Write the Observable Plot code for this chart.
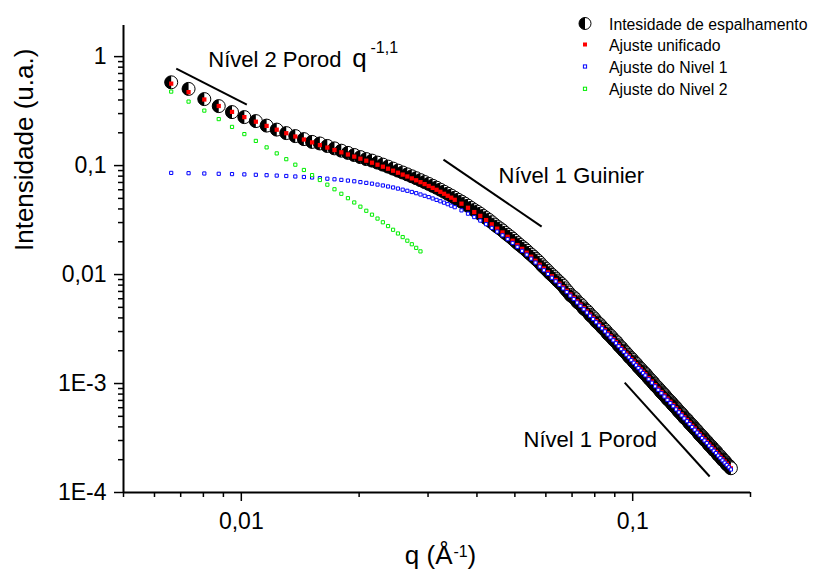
<!DOCTYPE html>
<html>
<head>
<meta charset="utf-8">
<script src="https://cdn.jsdelivr.net/npm/d3@7"></script>
<script src="https://cdn.jsdelivr.net/npm/@observablehq/plot@0.6"></script>
<style>
  html, body { margin: 0; padding: 0; background: #fff; }
  #chart { width: 813px; height: 570px; position: relative; }
</style>
</head>
<body>
<div id="chart"></div>
<script>
// ---------------- data ----------------
// q grid of the measured curve (every point)
const qDados = [0.00662, 0.007332, 0.008044, 0.008756, 0.009468, 0.01018, 0.010892, 0.011604, 0.012316, 0.013028, 0.01374, 0.014452, 0.015164, 0.015876, 0.016588, 0.0173, 0.018012, 0.018724, 0.019436, 0.020148, 0.02086, 0.021572, 0.022284, 0.022996, 0.023708, 0.02442, 0.025132, 0.025844, 0.026556, 0.027268, 0.02798, 0.028692, 0.029404, 0.030116, 0.030828, 0.03154, 0.032252, 0.032964, 0.033676, 0.034388, 0.0351,
  0.035812, 0.036524, 0.037236, 0.037948, 0.03866, 0.039372, 0.040084, 0.040796, 0.041508, 0.04222, 0.042932, 0.043644, 0.044356, 0.045068, 0.04578, 0.046492, 0.047204, 0.047916, 0.048628, 0.04934,
  0.050052, 0.050764, 0.051476, 0.052188, 0.0529, 0.053612, 0.054324, 0.055036, 0.055748, 0.05646, 0.057172, 0.057884, 0.058596, 0.059308, 0.06002, 0.060732, 0.061444, 0.062156, 0.062868, 0.06358,
  0.064292, 0.065004, 0.065716, 0.066428, 0.06714, 0.067852, 0.068564, 0.069276, 0.069988, 0.0707, 0.071412, 0.072124, 0.072836, 0.073548, 0.07426, 0.074972, 0.075684, 0.076396, 0.077108, 0.07782,
  0.078532, 0.079244, 0.079956, 0.080668, 0.08138, 0.082092, 0.082804, 0.083516, 0.084228, 0.08494, 0.085652, 0.086364, 0.087076, 0.087788, 0.0885, 0.089212, 0.089924, 0.090636, 0.091348, 0.09206,
  0.092772, 0.093484, 0.094196, 0.094908, 0.09562, 0.096332, 0.097044, 0.097756, 0.098468, 0.09918, 0.099892, 0.100604, 0.101316, 0.102028, 0.10274, 0.103452, 0.104164, 0.104876, 0.105588, 0.1063,
  0.107012, 0.107724, 0.108436, 0.109148, 0.10986, 0.110572, 0.111284, 0.111996, 0.112708, 0.11342, 0.114132, 0.114844, 0.115556, 0.116268, 0.11698, 0.117692, 0.118404, 0.119116, 0.119828, 0.12054,
  0.121252, 0.121964, 0.122676, 0.123388, 0.1241, 0.124812, 0.125524, 0.126236, 0.126948, 0.12766, 0.128372, 0.129084, 0.129796, 0.130508, 0.13122, 0.131932, 0.132644, 0.133356, 0.134068, 0.13478,
  0.135492, 0.136204, 0.136916, 0.137628, 0.13834, 0.139052, 0.139764, 0.140476, 0.141188, 0.1419, 0.142612, 0.143324, 0.144036, 0.144748, 0.14546, 0.146172, 0.146884, 0.147596, 0.148308, 0.14902,
  0.149732, 0.150444, 0.151156, 0.151868, 0.15258, 0.153292, 0.154004, 0.154716, 0.155428, 0.15614, 0.156852, 0.157564, 0.158276, 0.158988, 0.1597, 0.160412, 0.161124, 0.161836, 0.162548, 0.16326,
  0.163972, 0.164684, 0.165396, 0.166108, 0.16682, 0.167532, 0.168244, 0.168956, 0.169668, 0.17038, 0.171092, 0.171804, 0.172516, 0.173228, 0.17394, 0.174652, 0.175364, 0.176076, 0.176788, 0.1775, 0.178212];

const intensidade = [0.581, 0.5053, 0.4076, 0.3514, 0.3096, 0.2786, 0.2561, 0.2328, 0.2139, 0.1987, 0.1865, 0.175, 0.165, 0.1596, 0.1514, 0.1439, 0.137, 0.1308, 0.1251, 0.1197, 0.1148, 0.1111, 0.1065, 0.1021, 0.09789, 0.09382, 0.08994, 0.08639, 0.083, 0.07974, 0.07661, 0.0736, 0.0707, 0.06791, 0.06524, 0.06268, 0.06008, 0.05759, 0.05521, 0.05303, 0.05072,
  0.0486, 0.04672, 0.0448, 0.04285, 0.0409, 0.03914, 0.0377, 0.03612, 0.0345, 0.03304, 0.0317, 0.03023, 0.0288, 0.02756, 0.0265, 0.02542, 0.0242, 0.02322, 0.0223, 0.02134,
  0.0204, 0.01949, 0.0187, 0.01797, 0.0173, 0.01656, 0.0158, 0.01523, 0.0146, 0.01398, 0.01345, 0.01285, 0.0122, 0.01169, 0.01125, 0.01078, 0.0103, 0.009936, 0.00958, 0.009191,
  0.00882, 0.008501, 0.0082, 0.007877, 0.00748, 0.00715, 0.00686, 0.00652, 0.00632, 0.00618, 0.00595, 0.00566, 0.00548, 0.00535, 0.00514, 0.0049, 0.00476, 0.00465, 0.00448, 0.00428,
  0.00415, 0.00405, 0.0039, 0.00373, 0.00362, 0.00353, 0.00342, 0.00329, 0.00319, 0.00311, 0.003, 0.00288, 0.0028, 0.00274, 0.00265, 0.00255, 0.00248, 0.00243, 0.00235, 0.00225,
  0.00219, 0.00214, 0.00207, 0.002, 0.00195, 0.0019, 0.00184, 0.00178, 0.00173, 0.0017, 0.00165, 0.00159, 0.00155, 0.00152, 0.00147, 0.00142, 0.00139, 0.00136, 0.00132, 0.00128,
  0.00125, 0.00123, 0.001194, 0.001159, 0.001125, 0.0011, 0.001074, 0.00105, 0.001021, 0.000992, 0.000965, 0.000945, 0.000925, 0.000905, 0.000881, 0.000858, 0.000835, 0.000818, 0.000801, 0.000785,
  0.000764, 0.000744, 0.000725, 0.000711, 0.000698, 0.000685, 0.000668, 0.000651, 0.000635, 0.000622, 0.00061, 0.000598, 0.000584, 0.00057, 0.000556, 0.000546, 0.000536, 0.000527, 0.000514, 0.000501,
  0.000488, 0.000481, 0.000473, 0.000466, 0.000455, 0.000444, 0.000433, 0.000426, 0.000419, 0.000412, 0.000403, 0.000394, 0.000385, 0.000379, 0.000373, 0.000367, 0.000358, 0.00035, 0.000342, 0.000337,
  0.000332, 0.000327, 0.00032, 0.000313, 0.000306, 0.000302, 0.000297, 0.000293, 0.000287, 0.00028, 0.000274, 0.000271, 0.000267, 0.000264, 0.000258, 0.000252, 0.000246, 0.000243, 0.000241, 0.000238,
  0.000233, 0.000227, 0.000222, 0.00022, 0.000217, 0.000215, 0.00021, 0.000205, 0.0002, 0.000198, 0.000196, 0.000194, 0.00019, 0.000186, 0.000182, 0.00018, 0.000178, 0.000176, 0.000173, 0.00017, 0.000167];

// q grid of the fitted curves
const q = [0.00662, 0.007332, 0.008044, 0.008756, 0.009468, 0.01018, 0.010892, 0.011604, 0.012316, 0.013028, 0.01374, 0.014452, 0.015164, 0.015876, 0.016588, 0.0173, 0.018012, 0.018724, 0.019436, 0.020148, 0.02086, 0.021572, 0.022284, 0.022996, 0.023708, 0.02442, 0.025132, 0.025844, 0.026556, 0.027268, 0.02798, 0.028692, 0.029404, 0.030116, 0.030828, 0.03154, 0.032252, 0.032964, 0.033676, 0.034388, 0.0351,
  0.036524, 0.037948, 0.039372, 0.040796, 0.04222, 0.043644, 0.045068, 0.046492, 0.047916, 0.04934, 0.050764, 0.052188, 0.053612, 0.055036, 0.05646, 0.057884, 0.059308, 0.060732, 0.062156, 0.06358, 0.065004, 0.066428, 0.067852, 0.069276, 0.0707, 0.072124, 0.073548, 0.074972, 0.076396, 0.07782, 0.079244, 0.080668, 0.082092, 0.083516, 0.08494, 0.086364, 0.087788, 0.089212, 0.090636, 0.09206, 0.093484, 0.094908, 0.096332, 0.097756, 0.09918, 0.100604, 0.102028, 0.103452, 0.104876, 0.1063, 0.107724,
  0.10986, 0.111996, 0.114132, 0.116268, 0.118404, 0.12054, 0.122676, 0.124812, 0.126948, 0.129084, 0.13122, 0.133356, 0.135492, 0.137628, 0.139764, 0.1419, 0.144036, 0.146172, 0.148308, 0.150444, 0.15258, 0.154716, 0.156852, 0.158988, 0.161124, 0.16326, 0.165396, 0.167532, 0.169668, 0.171804, 0.17394, 0.176076, 0.178212];

const ajusteUnificado = [0.565, 0.4724, 0.4041, 0.3522, 0.311, 0.2786, 0.2528, 0.2313, 0.2135, 0.1982, 0.1849, 0.1735, 0.1632, 0.1542, 0.1463, 0.139, 0.1324, 0.1264, 0.1209, 0.1157, 0.1109, 0.1063, 0.1019, 0.0977, 0.09367, 0.08978, 0.08607, 0.08267, 0.07943, 0.07631, 0.07331, 0.07043, 0.06766, 0.06499, 0.06243, 0.05998, 0.05749, 0.05511, 0.05283, 0.05075, 0.04854,
  0.04471, 0.041, 0.03745, 0.03456, 0.03162, 0.02893, 0.02637, 0.02433, 0.02222, 0.02042, 0.01865, 0.0172, 0.01585, 0.01457, 0.01338, 0.0123, 0.01135, 0.01047, 0.009647, 0.008923, 0.008253, 0.007648, 0.007087, 0.006568, 0.006112, 0.005676, 0.005294, 0.004928, 0.004596, 0.004295, 0.004006, 0.003744, 0.003499, 0.003292, 0.003083, 0.002892, 0.002716, 0.002555, 0.002403, 0.002255, 0.002121, 0.002003, 0.001884, 0.001783, 0.001681, 0.001591, 0.001507, 0.001423, 0.00135, 0.00128, 0.001217,
  0.001123, 0.001043, 0.0009667, 0.0008978, 0.0008356, 0.0007789, 0.0007266, 0.0006793, 0.0006349, 0.0005934, 0.0005581, 0.0005227, 0.0004906, 0.0004625, 0.000435, 0.0004091, 0.0003865, 0.0003635, 0.000344, 0.0003243, 0.0003076, 0.0002911, 0.0002757, 0.0002615, 0.000248, 0.0002358, 0.0002236, 0.0002126, 0.000202, 0.0001925, 0.0001834, 0.0001747, 0.0001667];

const ajusteNivel1 = [0.0857, 0.08516, 0.08462, 0.08409, 0.08356, 0.08303, 0.08233, 0.08163, 0.08095, 0.08027, 0.07943, 0.07859, 0.07776, 0.07679, 0.07582, 0.07487, 0.07393, 0.07285, 0.07178, 0.07057, 0.06939, 0.06822, 0.06694, 0.06568, 0.06431, 0.06297, 0.06152, 0.06011, 0.05872, 0.05725, 0.05582, 0.05431, 0.05283, 0.0514, 0.04991, 0.04845, 0.04704, 0.04567, 0.04424, 0.04286, 0.04152,
  0.03882, 0.0362, 0.03369, 0.03129, 0.02899, 0.02682, 0.0248, 0.02293, 0.02113, 0.0195, 0.01795, 0.0165, 0.01523, 0.01399, 0.01288, 0.01184, 0.01095, 0.01013, 0.009346, 0.008661, 0.008027, 0.007457, 0.00691, 0.006404, 0.005959, 0.005534, 0.005162, 0.004805, 0.004481, 0.004188, 0.003906, 0.00365, 0.003412, 0.00321, 0.003006, 0.00282, 0.002648, 0.002491, 0.002343, 0.002199, 0.002068, 0.001953, 0.001837, 0.001738, 0.001639, 0.001551, 0.001469, 0.001387, 0.001316, 0.001248, 0.001187,
  0.001095, 0.001017, 0.0009425, 0.0008754, 0.0008147, 0.0007594, 0.0007084, 0.0006623, 0.000619, 0.0005786, 0.0005441, 0.0005096, 0.0004783, 0.0004509, 0.0004241, 0.0003989, 0.0003768, 0.0003544, 0.0003354, 0.0003162, 0.0002999, 0.0002838, 0.0002688, 0.000255, 0.0002418, 0.0002299, 0.000218, 0.0002073, 0.000197, 0.0001877, 0.0001788, 0.0001703, 0.0001625];

const ajusteNivel2 = [0.4775, 0.3866, 0.3196, 0.2671, 0.2265, 0.1945, 0.1685, 0.1469, 0.1294, 0.1145, 0.1019, 0.09114, 0.0818, 0.07377, 0.0668, 0.06064, 0.05511, 0.05021, 0.04586, 0.04197, 0.03849, 0.03544, 0.03264, 0.03019, 0.02786, 0.02576, 0.02382, 0.02208, 0.02046, 0.01897, 0.01758, 0.01632];

// axis ticks
const xMajor = [0.01, 0.1];
const xMajorLabels = ["0,01", "0,1"];
const xMinor = [0.005, 0.006, 0.007, 0.008, 0.009, 0.02, 0.03, 0.04, 0.05, 0.06, 0.07, 0.08, 0.09, 0.2];
const yMajor = [1e-4, 1e-3, 0.01, 0.1, 1];
const yMajorLabels = ["1E-4", "1E-3", "0,01", "0,1", "1"];
const yMinor = [2e-4, 3e-4, 4e-4, 5e-4, 6e-4, 7e-4, 8e-4, 9e-4, 2e-3, 3e-3, 4e-3, 5e-3, 6e-3, 7e-3, 8e-3, 9e-3, 0.02, 0.03, 0.04, 0.05, 0.06, 0.07, 0.08, 0.09, 0.2, 0.3, 0.4, 0.5, 0.6, 0.7, 0.8, 0.9];

// annotation guide lines (q, I endpoints)
const guideQ1 = [0.00682, 0.03285, 0.0954];
const guideI1 = [0.7763, 0.1135, 0.001021];
const guideQ2 = [0.01033, 0.05853, 0.1573];
const guideI2 = [0.3628, 0.02756, 0.0001402];

// annotation labels (baseline-anchored, in data units)
const annotLabels = ["Nível 2 Porod", "Nível 1 Guinier", "Nível 1 Porod"];
const annotQ = [0.008233, 0.04544, 0.05263];
const annotI = [0.8096, 0.06982, 0.0002642];

const legendLabels = ["Intesidade de espalhamento", "Ajuste unificado", "Ajuste do Nivel 1", "Ajuste do Nivel 2"];

// ---------------- build ----------------
const dataPts = intensidade.map((v, i) => ({q: qDados[i], I: v}));
const redPts = ajusteUnificado.map((v, i) => ({q: q[i], I: v}));
const bluePts = ajusteNivel1.map((v, i) => ({q: q[i], I: v}));
const greenPts = ajusteNivel2.map((v, i) => ({q: q[i], I: v}));
const guides = guideQ1.map((d, i) => ({q1: d, I1: guideI1[i], q2: guideQ2[i], I2: guideI2[i]}));
const annots = annotLabels.map((t, i) => ({t, q: annotQ[i], I: annotI[i]}));
const xLab = new Map(xMajor.map((d, i) => [d, xMajorLabels[i]]));
const yLab = new Map(yMajor.map((d, i) => [d, yMajorLabels[i]]));

const halfLeft = {
  draw(context, size) {
    const r = Math.sqrt(size / Math.PI);
    context.moveTo(0, -r);
    context.arc(0, 0, r, -Math.PI / 2, Math.PI / 2, true);
    context.closePath();
  }
};

const RED = "#ff0000", BLUE = "#0000ff", GREEN = "#00ee00";

const svg = Plot.plot({
  width: 813,
  height: 570,
  marginLeft: 123,
  marginRight: 63,
  marginTop: 25,
  marginBottom: 78,
  x: {type: "log", domain: [0.005, 0.2]},
  y: {type: "log", domain: [1e-4, 1.93]},
  style: {fontFamily: "'Liberation Sans', Arial, sans-serif", color: "black", background: "white", overflow: "visible"},
  marks: [
    Plot.ruleX([0.005], {strokeWidth: 2}),
    Plot.ruleY([1e-4], {strokeWidth: 2}),
    Plot.axisX(xMinor, {tickSize: 5, tickFormat: () => "", strokeWidth: 1.5, label: null}),
    Plot.axisX(xMajor, {tickSize: 9, tickPadding: 11, tickFormat: d => xLab.get(d), fontSize: 23, strokeWidth: 1.5, label: null}),
    Plot.axisY(yMinor, {tickSize: 5, tickFormat: () => "", strokeWidth: 1.5, label: null}),
    Plot.axisY(yMajor, {tickSize: 9, tickPadding: 8, tickFormat: d => yLab.get(d), fontSize: 23, strokeWidth: 1.5, label: null}),
    Plot.dot(dataPts, {x: "q", y: "I", r: 6.5, fill: "white", stroke: "black", strokeWidth: 1}),
    Plot.dot(dataPts, {x: "q", y: "I", r: 6.6, symbol: halfLeft, fill: "black"}),
    Plot.dot(redPts, {x: "q", y: "I", r: 2.4, symbol: "square", fill: RED}),
    Plot.dot(bluePts, {x: "q", y: "I", r: 1.8, symbol: "square", fill: "white", stroke: BLUE, strokeWidth: 1}),
    Plot.dot(greenPts, {x: "q", y: "I", r: 1.8, symbol: "square", fill: "white", stroke: GREEN, strokeWidth: 1}),
    Plot.link(guides, {x1: "q1", y1: "I1", x2: "q2", y2: "I2", stroke: "black", strokeWidth: 2}),
    Plot.text(annots, {x: "q", y: "I", text: "t", textAnchor: "start", lineAnchor: "bottom", fontSize: 22}),
    Plot.text(["q"], {x: () => 0.01922, y: () => 0.8096, text: d => d, textAnchor: "start", lineAnchor: "bottom", fontSize: 26}),
    Plot.text(["-1,1"], {x: () => 0.02138, y: () => 1.088, text: d => d, textAnchor: "start", lineAnchor: "bottom", fontSize: 16}),
    Plot.text(["Intensidade (u.a.)"], {text: d => d, frameAnchor: "left", rotate: -90, dx: -91, dy: -8, lineAnchor: "bottom", fontSize: 26}),
    Plot.text(["q (Å"], {text: d => d, frameAnchor: "bottom-left", dx: 329, dy: 71, textAnchor: "end", lineAnchor: "bottom", fontSize: 26}),
    Plot.text(["-1"], {text: d => d, frameAnchor: "bottom-left", dx: 330, dy: 64, textAnchor: "start", lineAnchor: "bottom", fontSize: 16}),
    Plot.text([")"], {text: d => d, frameAnchor: "bottom-left", dx: 344, dy: 71, textAnchor: "start", lineAnchor: "bottom", fontSize: 26})
  ]
});

// legend (top right)
const lg = d3.select(svg).append("g")
  .attr("font-size", 15.8)
  .attr("fill", "black")
  .attr("text-anchor", "start");
const rows = [23.5, 44.5, 66.5, 88.8];
const sx = 585, tx = 609;
lg.append("circle").attr("cx", sx).attr("cy", rows[0]).attr("r", 6).attr("fill", "white").attr("stroke", "black").attr("stroke-width", 1);
lg.append("path").attr("d", `M${sx},${rows[0] - 6} A6,6 0 0,0 ${sx},${rows[0] + 6} Z`).attr("fill", "black");
lg.append("rect").attr("x", sx - 2).attr("y", rows[1] - 2).attr("width", 4).attr("height", 4).attr("fill", RED);
lg.append("rect").attr("x", sx - 1.6).attr("y", rows[2] - 1.6).attr("width", 3.2).attr("height", 3.2).attr("fill", "white").attr("stroke", BLUE);
lg.append("rect").attr("x", sx - 1.6).attr("y", rows[3] - 1.6).attr("width", 3.2).attr("height", 3.2).attr("fill", "white").attr("stroke", GREEN);
legendLabels.forEach((t, i) => {
  lg.append("text").attr("x", tx).attr("y", rows[i] + 6).attr("text-anchor", "start").text(t);
});

document.getElementById("chart").appendChild(svg);
</script>
</body>
</html>
